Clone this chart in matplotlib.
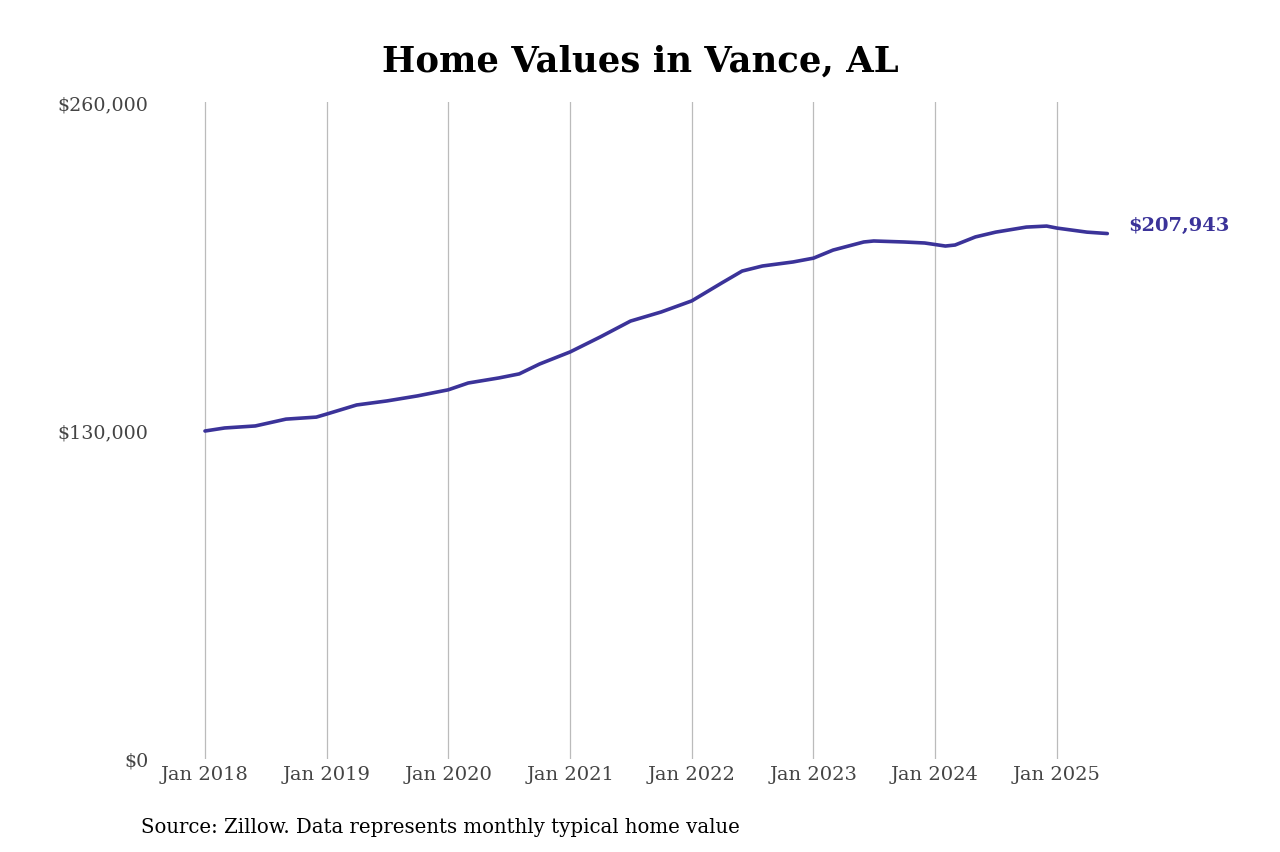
import matplotlib
matplotlib.use("Agg")
import matplotlib.pyplot as plt
import pandas as pd

dates = ["2018-01","2018-03","2018-06","2018-09","2018-12","2019-01","2019-04","2019-07","2019-10",
         "2020-01","2020-03","2020-06","2020-08","2020-10","2021-01","2021-04","2021-07","2021-10",
         "2022-01","2022-04","2022-06","2022-08","2022-11","2023-01","2023-03","2023-06","2023-07",
         "2023-10","2023-12","2024-02","2024-03","2024-05","2024-07","2024-10","2024-12","2025-01",
         "2025-04","2025-06"]
values = [129800,131000,131800,134500,135300,136500,140100,141700,143700,146100,148800,150800,
          152400,156300,161100,167000,173300,176900,181300,188400,193100,195100,196700,198200,
          201400,204600,205000,204600,204200,203000,203400,206600,208500,210500,210900,210100,
          208500,207943]
yticks = [0, 130000, 260000]
ytick_labels = ["$0", "$130,000", "$260,000"]
xtick_dates = [f"{y}-01" for y in range(2018, 2026)]
xtick_labels = [f"Jan {y}" for y in range(2018, 2026)]

x = pd.to_datetime(dates)
plt.rcParams["font.family"] = "DejaVu Serif"
fig = plt.figure(figsize=(12.8, 8.53), dpi=100)
ax = fig.add_axes([150/1280, 1-760/853, (1110-150)/1280, (760-103)/853])
ax.plot(x, values, color="#3b3399", lw=2.6, solid_capstyle="round")
xt = pd.to_datetime(xtick_dates)
ax.set_xticks(xt)
ax.set_xticklabels(xtick_labels, fontsize=14, color="#444444")
ax.set_yticks(yticks)
ax.set_yticklabels(ytick_labels, fontsize=13.7, color="#444444")
ax.tick_params(length=0, pad=1)
ax.tick_params(axis="x", pad=4)
ax.grid(axis="x", color="#bbbbbb", lw=0.9)
ax.set_ylim(0, 260000)
x0 = pd.Timestamp("2018-01-01")
days7 = (pd.Timestamp("2025-01-01") - x0).days
px_per_day = (1057-205)/days7
ax.set_xlim(x0 - pd.Timedelta(days=(205-150)/px_per_day), x0 + pd.Timedelta(days=(1110-205)/px_per_day))
for s in ax.spines.values():
    s.set_visible(False)
ax.annotate(f"${values[-1]:,}", (x[-1], values[-1]), xytext=(15, 6), textcoords="offset points",
            color="#3b3399", fontsize=14, fontweight="bold", va="center", annotation_clip=False)
fig.text(0.5, 1-62/853, "Home Values in Vance, AL", ha="center", va="center", fontsize=25.5, fontweight="bold")
fig.text(141/1280, 1-828/853, "Source: Zillow. Data represents monthly typical home value", fontsize=14.2, va="center")
fig.savefig("out.png", dpi=100, facecolor="white")
